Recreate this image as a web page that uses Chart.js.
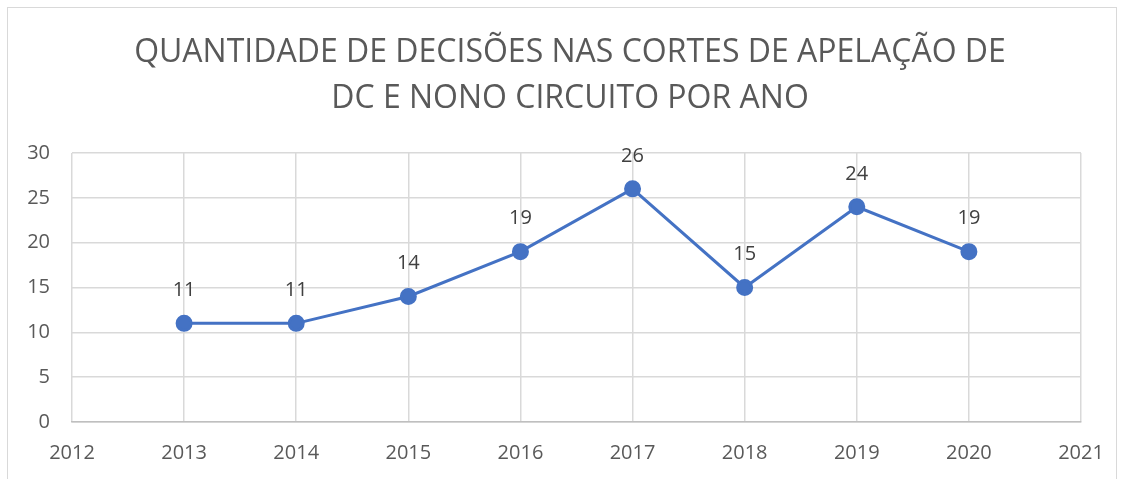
<!DOCTYPE html>
<html>
<head>
<meta charset="utf-8">
<script src="https://cdn.jsdelivr.net/npm/chart.js@4/dist/chart.umd.min.js"></script>
<style>
  html, body { margin: 0; padding: 0; background: #fff; }
  #wrap { position: relative; width: 1123px; height: 479px; }
  #frame { position: absolute; left: 7px; top: 7px; width: 1110px; height: 480px; border: 1px solid #d9d9d9; box-sizing: border-box; pointer-events: none; }
</style>
</head>
<body>
<div id="wrap">
  <canvas id="chart" width="1123" height="479"></canvas>
  <div id="frame"></div>
</div>
<script>
var anos = [2013, 2014, 2015, 2016, 2017, 2018, 2019, 2020];
var decisoes = [11, 11, 14, 19, 26, 15, 24, 19];
var titulo = ['QUANTIDADE DE DECISÕES NAS CORTES DE APELAÇÃO DE', 'DC E NONO CIRCUITO POR ANO'];

var pontos = anos.map(function(a, i) { return {x: a, y: decisoes[i]}; });
var fonte = '"Open Sans", sans-serif';

// título centrado no quadro e rótulos acima dos pontos
var desenhos = {
  id: 'desenhos',
  afterDraw: function(chart) {
    var ctx = chart.ctx;
    ctx.save();
    ctx.font = '32px ' + fonte;
    ctx.fillStyle = '#595959';
    ctx.textAlign = 'center';
    ctx.textBaseline = 'middle';
    ctx.fillText(titulo[0], 570, 53);
    ctx.fillText(titulo[1], 570, 99);

    var meta = chart.getDatasetMeta(0);
    ctx.font = '20px ' + fonte;
    ctx.fillStyle = '#404040';
    meta.data.forEach(function(p, i) {
      ctx.fillText(String(decisoes[i]), p.x, p.y - 33);
    });
    ctx.restore();
  }
};

var chart = new Chart(document.getElementById('chart'), {
  type: 'line',
  data: {
    datasets: [{
      data: pontos,
      borderColor: '#4472c4',
      backgroundColor: '#4472c4',
      borderWidth: 3,
      pointRadius: 7,
      pointHoverRadius: 7,
      tension: 0
    }]
  },
  options: {
    responsive: false,
    animation: false,
    layout: { padding: { top: 153, right: 42, left: 0, bottom: 0 } },
    plugins: {
      legend: { display: false },
      tooltip: { enabled: false },
      title: { display: false }
    },
    scales: {
      x: {
        type: 'linear',
        min: 2012,
        max: 2021,
        ticks: {
          stepSize: 1,
          padding: 19,
          color: '#595959',
          font: { family: fonte, size: 20 },
          callback: function(v) { return String(v); }
        },
        grid: { color: '#d9d9d9', lineWidth: 1.5, drawTicks: false },
        border: { color: '#bfbfbf', width: 1.5 },
        afterFit: function(s) { s.height = 57; }
      },
      y: {
        min: 0,
        max: 30,
        ticks: {
          stepSize: 5,
          padding: 22,
          color: '#595959',
          font: { family: fonte, size: 20 }
        },
        grid: { color: '#d9d9d9', lineWidth: 1.5, drawTicks: false },
        border: { display: false },
        afterFit: function(s) { s.width = 72; }
      }
    }
  },
  plugins: [desenhos]
});
</script>
</body>
</html>
